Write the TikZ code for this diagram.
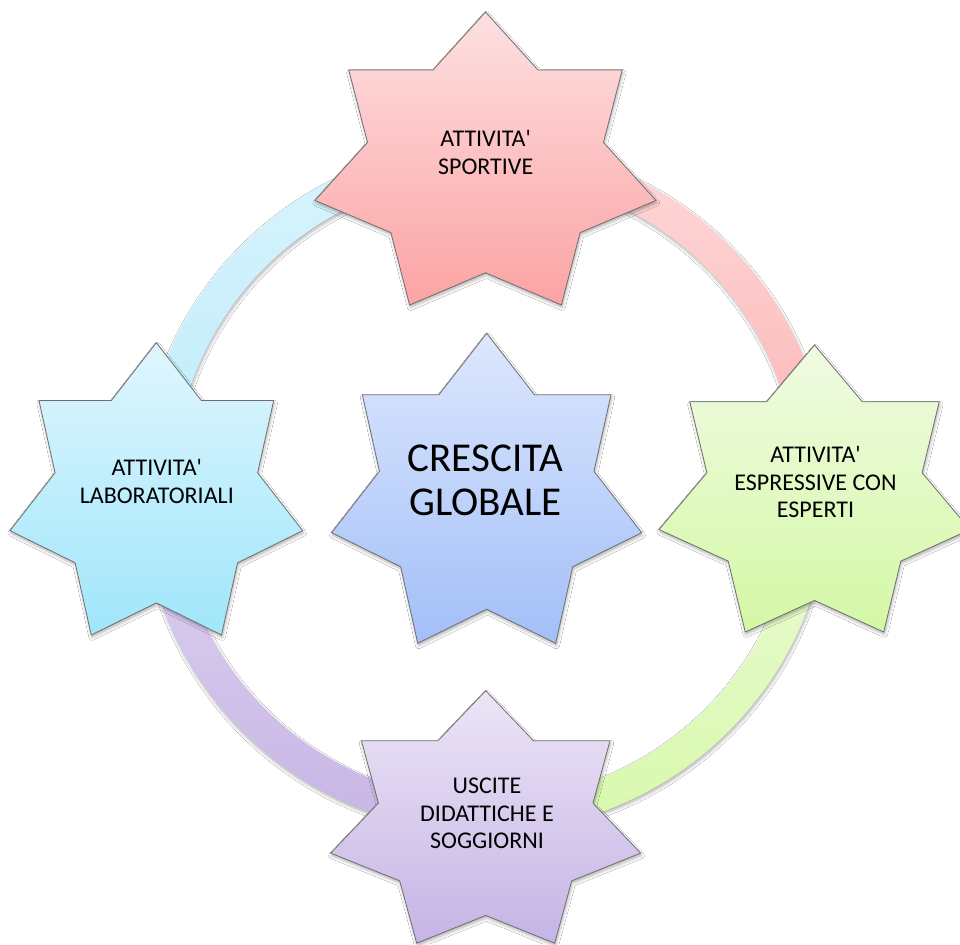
\documentclass[tikz,border=0pt]{standalone}
\usepackage{fontspec}
\setmainfont{Carlito}
\usetikzlibrary{calc,shadows.blur}

% fills of the five stars (top / bottom of the vertical gradient)
\definecolor{pinkA}{HTML}{FDE0E1}\definecolor{pinkB}{HTML}{FCA3A4}
\definecolor{blueA}{HTML}{DDE7FD}\definecolor{blueB}{HTML}{A2BFF8}
\definecolor{cyanA}{HTML}{DFF6FD}\definecolor{cyanB}{HTML}{A0E6FB}
\definecolor{limeA}{HTML}{F0FBE3}\definecolor{limeB}{HTML}{D4F8A5}
\definecolor{lilaA}{HTML}{ECE5F6}\definecolor{lilaB}{HTML}{C5B4E5}
% fills of the four ring segments
\definecolor{ringPinkA}{HTML}{FDD9DA}\definecolor{ringPinkB}{HTML}{FDB3B4}
\definecolor{ringCyanA}{HTML}{D9F4FC}\definecolor{ringCyanB}{HTML}{BDEBFB}
\definecolor{ringLimeA}{HTML}{EBFAD6}\definecolor{ringLimeB}{HTML}{D8F9AC}
\definecolor{ringLilaA}{HTML}{DED3F0}\definecolor{ringLilaB}{HTML}{C7B5E5}
\definecolor{starline}{HTML}{6E6E6E}

\tikzset{
  softshadow/.style={blur shadow={shadow xshift=0.8pt,shadow yshift=-2.5pt,
      shadow blur radius=3pt,shadow opacity=30}},
  starshape/.style={draw=starline,line width=0.8pt,line join=miter,softshadow},
  ringpart/.style={softshadow},
  smalltext/.style={align=center,font=\fontsize{24}{27.5}\selectfont,inner sep=0pt},
  bigtext/.style={align=center,font=\fontsize{41}{44.5}\selectfont,inner sep=0pt},
}

% straight apostrophe
\newcommand\apo{\textquotesingle}

% seven-pointed star in the box with left edge #1, top edge #2, width #3, height #4
\newcommand\sevenstar[5]{%
  \shade[#5] (#1+0.5*#3,#2) -- (#1+0.65399*#3,#2+0.19806*#4)
    -- (#1+0.90097*#3,#2+0.19806*#4) -- (#1+0.84601*#3,#2+0.44504*#4)
    -- (#1+#3,#2+0.64311*#4) -- (#1+0.77748*#3,#2+0.75303*#4)
    -- (#1+0.72252*#3,#2+#4) -- (#1+0.5*#3,#2+0.89009*#4)
    -- (#1+0.27748*#3,#2+#4) -- (#1+0.22252*#3,#2+0.75303*#4)
    -- (#1,#2+0.64311*#4) -- (#1+0.15399*#3,#2+0.44504*#4)
    -- (#1+0.09903*#3,#2+0.19806*#4) -- (#1+0.34601*#3,#2+0.19806*#4) -- cycle;}

% quarter of the ring between angles #1 and #2
\def\ringout{344}
\def\ringin{312}
\newcommand\ringquarter[3]{%
  \shade[ringpart,#3] ($(ring)+(#1:\ringout)$)
    arc[start angle=#1,end angle=#2,radius=\ringout]
    -- ($(ring)+(#2:\ringin)$)
    arc[start angle=#2,end angle=#1,radius=\ringin] -- cycle;}

\begin{document}
\begin{tikzpicture}[x=1pt,y=-1pt]
  \useasboundingbox (0,0) rectangle (960,944);
  \clip (0,0) rectangle (960,944);
  \fill[white] (0,0) rectangle (960,944);

  \coordinate (ring) at (485.5,488);

  % ring segments, each starting at one star and ending at the next
  \ringquarter{180}{270}{top color=ringCyanA,bottom color=ringCyanB}
  \ringquarter{270}{360}{top color=ringPinkA,bottom color=ringPinkB}
  \ringquarter{0}{90}{top color=ringLimeA,bottom color=ringLimeB}
  \ringquarter{90}{180}{top color=ringLilaA,bottom color=ringLilaB}

  % stars
  \sevenstar{315}{12}{341}{293}{starshape,top color=pinkA,bottom color=pinkB}
  \sevenstar{10}{342.7}{292.7}{292.3}{starshape,top color=cyanA,bottom color=cyanB}
  \sevenstar{659}{345}{311}{287}{starshape,top color=limeA,bottom color=limeB}
  \sevenstar{330.7}{690.7}{310}{252.5}{starshape,top color=lilaA,bottom color=lilaB}
  \sevenstar{331.7}{333.3}{310}{310}{starshape,top color=blueA,bottom color=blueB}

  % labels
  \node[smalltext] (sport) at (485.7,152.5) {ATTIVITA\apo\\SPORTIVE};
  \node[smalltext] (lab) at (156.8,481.7) {ATTIVITA\apo\\LABORATORIALI};
  \node[smalltext] (espr) at (815.5,482.2) {ATTIVITA\apo\\ESPRESSIVE CON\\ESPERTI};
  \node[smalltext] (usc) at (487,813.3) {USCITE\\DIDATTICHE E\\SOGGIORNI};
  \node[bigtext] (cresc) at (485.3,480.3) {CRESCITA\\GLOBALE};
\end{tikzpicture}
\end{document}
